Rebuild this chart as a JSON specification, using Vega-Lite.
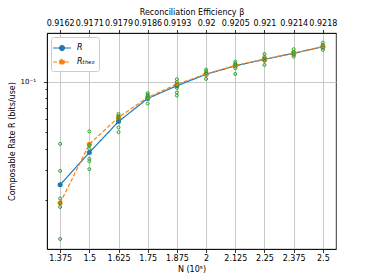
{
  "$schema": "https://vega.github.io/schema/vega-lite/v6.json",
  "width": 289,
  "height": 216,
  "autosize": {"type": "none"},
  "padding": {"left": 47, "top": 33, "right": 38, "bottom": 31},
  "background": "white",
  "config": {
    "font": "DejaVu Sans",
    "view": {"stroke": "black", "strokeWidth": 0.8},
    "axis": {
      "labelFont": "DejaVu Sans", "titleFont": "DejaVu Sans",
      "labelFontSize": 8, "titleFontSize": 8, "titleFontWeight": "normal",
      "labelColor": "black", "titleColor": "black",
      "domainColor": "black", "tickColor": "black", "domainWidth": 0.8, "tickWidth": 0.8,
      "gridColor": "#c8c8c8", "gridWidth": 1
    },
    "legend": {
      "orient": "top-left", "offset": 4, "strokeColor": "#cccccc", "fillColor": "white",
      "padding": 4, "cornerRadius": 2, "labelFont": "DejaVu Sans", "labelFontSize": 8,
      "labelFontStyle": "italic", "labelColor": "black",
      "symbolType": "M-1.5,0H1.5M-0.4,0A0.4,0.4,0,1,1,0.4,0A0.4,0.4,0,1,1,-0.4,0Z",
      "symbolSize": 144, "symbolStrokeWidth": 1.2, "labelOffset": 8
    }
  },
  "datasets": {
    "lines": [
      {"N": 1.375, "series": "R", "value": 0.0245},
      {"N": 1.5, "series": "R", "value": 0.038},
      {"N": 1.625, "series": "R", "value": 0.058},
      {"N": 1.75, "series": "R", "value": 0.0795},
      {"N": 1.875, "series": "R", "value": 0.0945},
      {"N": 2.0, "series": "R", "value": 0.1105},
      {"N": 2.125, "series": "R", "value": 0.124},
      {"N": 2.25, "series": "R", "value": 0.1355},
      {"N": 2.375, "series": "R", "value": 0.147},
      {"N": 2.5, "series": "R", "value": 0.161},
      {"N": 1.375, "series": "Rₜₕₑₒ", "value": 0.0191},
      {"N": 1.5, "series": "Rₜₕₑₒ", "value": 0.0426},
      {"N": 1.625, "series": "Rₜₕₑₒ", "value": 0.0615},
      {"N": 1.75, "series": "Rₜₕₑₒ", "value": 0.0805},
      {"N": 1.875, "series": "Rₜₕₑₒ", "value": 0.0965},
      {"N": 2.0, "series": "Rₜₕₑₒ", "value": 0.111},
      {"N": 2.125, "series": "Rₜₕₑₒ", "value": 0.1245},
      {"N": 2.25, "series": "Rₜₕₑₒ", "value": 0.136},
      {"N": 2.375, "series": "Rₜₕₑₒ", "value": 0.1475},
      {"N": 2.5, "series": "Rₜₕₑₒ", "value": 0.161}
    ],
    "samples": [
      {"N": 1.375, "value": 0.0428}, {"N": 1.375, "value": 0.0296}, {"N": 1.375, "value": 0.0203},
      {"N": 1.375, "value": 0.0191}, {"N": 1.375, "value": 0.0181}, {"N": 1.375, "value": 0.0117},
      {"N": 1.5, "value": 0.0507}, {"N": 1.5, "value": 0.042}, {"N": 1.5, "value": 0.040},
      {"N": 1.5, "value": 0.0349}, {"N": 1.5, "value": 0.0337}, {"N": 1.5, "value": 0.0303},
      {"N": 1.625, "value": 0.0644}, {"N": 1.625, "value": 0.0627}, {"N": 1.625, "value": 0.061},
      {"N": 1.625, "value": 0.059}, {"N": 1.625, "value": 0.0535}, {"N": 1.625, "value": 0.0502},
      {"N": 1.75, "value": 0.0854}, {"N": 1.75, "value": 0.0835}, {"N": 1.75, "value": 0.0823},
      {"N": 1.75, "value": 0.080}, {"N": 1.75, "value": 0.0741},
      {"N": 1.875, "value": 0.1033}, {"N": 1.875, "value": 0.0996}, {"N": 1.875, "value": 0.0956},
      {"N": 1.875, "value": 0.0918}, {"N": 1.875, "value": 0.0861}, {"N": 1.875, "value": 0.0827},
      {"N": 2.0, "value": 0.1178}, {"N": 2.0, "value": 0.115}, {"N": 2.0, "value": 0.112}, {"N": 2.0, "value": 0.1037},
      {"N": 2.125, "value": 0.1313}, {"N": 2.125, "value": 0.128}, {"N": 2.125, "value": 0.1255},
      {"N": 2.125, "value": 0.120}, {"N": 2.125, "value": 0.111},
      {"N": 2.25, "value": 0.1458}, {"N": 2.25, "value": 0.140}, {"N": 2.25, "value": 0.137},
      {"N": 2.25, "value": 0.1326}, {"N": 2.25, "value": 0.1255},
      {"N": 2.375, "value": 0.1555}, {"N": 2.375, "value": 0.15}, {"N": 2.375, "value": 0.1438}, {"N": 2.375, "value": 0.1406},
      {"N": 2.5, "value": 0.170}, {"N": 2.5, "value": 0.165}, {"N": 2.5, "value": 0.159}, {"N": 2.5, "value": 0.154}
    ]
  },
  "resolve": {"axis": {"x": "independent"}},
  "layer": [
    {
      "data": {"name": "lines"},
      "mark": {"type": "line", "strokeWidth": 1.2},
      "encoding": {
        "x": {
          "field": "N", "type": "quantitative",
          "scale": {"domain": [1.31875, 2.55625], "nice": false, "zero": false},
          "axis": {
            "orient": "bottom", "values": [1.375, 1.5, 1.625, 1.75, 1.875, 2.0, 2.125, 2.25, 2.375, 2.5],
            "labelExpr": "toString(datum.value)", "title": "N (10⁵)", "grid": true, "tickSize": 3.5,
            "labelPadding": 2, "titlePadding": 3, "labelFlush": false, "labelOverlap": false
          }
        },
        "y": {
          "field": "value", "type": "quantitative",
          "scale": {"type": "log", "domain": [0.0102, 0.194], "nice": false},
          "axis": {
            "values": [0.02, 0.03, 0.04, 0.05, 0.06, 0.07, 0.08, 0.09, 0.1],
            "labelExpr": "datum.value == 0.1 ? '10⁻¹' : ''",
            "labelOverlap": false, "labelFontSize": 7, "labelPadding": 8,
            "tickSize": {"condition": {"test": "datum.value == 0.1", "value": 3.5}, "value": 2},
            "grid": true,
            "gridOpacity": {"condition": {"test": "datum.value == 0.1", "value": 1}, "value": 0},
            "title": "Composable Rate R (bits/use)", "titlePadding": 4
          }
        },
        "color": {
          "field": "series", "type": "nominal",
          "scale": {"domain": ["R", "Rₜₕₑₒ"], "range": ["#1f77b4", "#ff7f0e"]},
          "legend": {"title": null}
        },
        "strokeDash": {
          "field": "series", "type": "nominal",
          "scale": {"domain": ["R", "Rₜₕₑₒ"], "range": [[1, 0], [4, 2]]},
          "legend": {"title": null}
        }
      }
    },
    {
      "data": {"name": "lines"},
      "mark": {"type": "point", "filled": true, "size": 25, "opacity": 1},
      "encoding": {
        "x": {"field": "N", "type": "quantitative", "axis": null},
        "y": {"field": "value", "type": "quantitative"},
        "color": {"field": "series", "type": "nominal", "legend": {"title": null}}
      }
    },
    {
      "data": {"name": "samples"},
      "mark": {"type": "point", "filled": false, "size": 9, "strokeWidth": 1, "color": "#2ca02c", "opacity": 1},
      "encoding": {
        "x": {
          "field": "N", "type": "quantitative",
          "axis": {
            "orient": "top", "values": [1.375, 1.5, 1.625, 1.75, 1.875, 2.0, 2.125, 2.25, 2.375, 2.5],
            "labelExpr": "['0.9162','0.9171','0.9179','0.9186','0.9193','0.92','0.9205','0.921','0.9214','0.9218'][round((datum.value-1.375)/0.125)]",
            "title": "Reconciliation Efficiency β", "grid": false, "tickSize": 3.5,
            "labelPadding": 2, "titlePadding": 3, "labelFlush": false, "labelOverlap": false
          }
        },
        "y": {"field": "value", "type": "quantitative"}
      }
    }
  ]
}
